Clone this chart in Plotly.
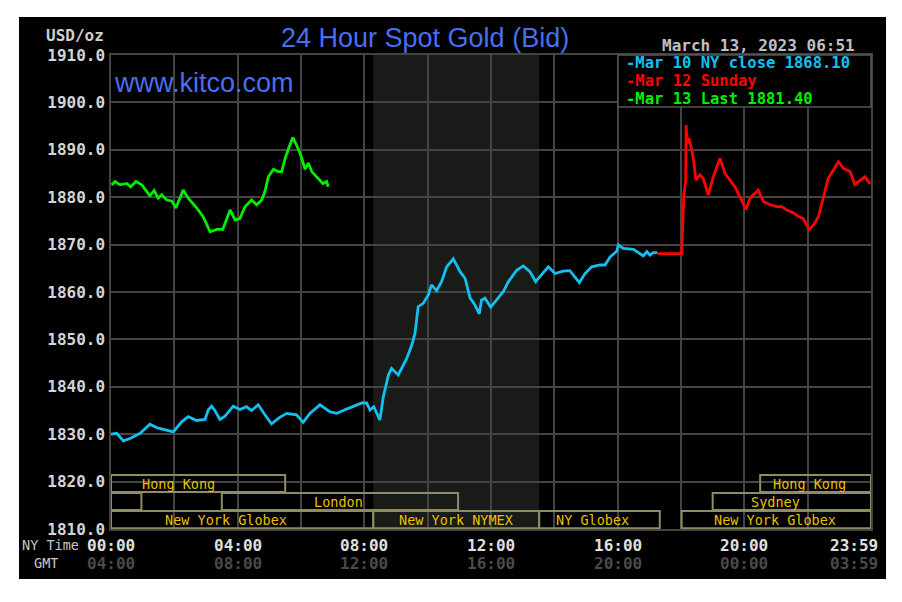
import plotly.graph_objects as go

# ---------------- data (NY time in hours, price USD/oz) ----------------
mar10_t = [0.0, 0.18, 0.39, 0.6, 0.92, 1.23, 1.44, 1.76, 1.97, 2.23, 2.44, 2.7, 2.97, 3.07, 3.18,
           3.28, 3.44, 3.6, 3.86, 4.07, 4.28, 4.44, 4.65, 4.86, 5.07, 5.34, 5.55, 5.86, 6.07, 6.28,
           6.6, 6.92, 7.13, 7.44, 7.65, 7.92, 8.07, 8.18, 8.3, 8.49, 8.6, 8.76, 8.86, 9.07, 9.34,
           9.5, 9.6, 9.7, 9.86, 10.02, 10.12, 10.28, 10.44, 10.6, 10.81, 11.02, 11.18, 11.34, 11.49, 11.63,
           11.7, 11.81, 11.99, 12.18, 12.39, 12.55, 12.81, 13.02, 13.23, 13.41, 13.6, 13.81, 14.02, 14.28, 14.49,
           14.65, 14.79, 14.97, 15.18, 15.44, 15.6, 15.76, 15.97, 16.02, 16.18, 16.5, 16.7, 16.81, 16.92, 17.02,
           17.12, 17.25]
mar10_v = [1830.0, 1830.2, 1828.6, 1829.1, 1830.2, 1832.1, 1831.4, 1830.9, 1830.5, 1832.6, 1833.7, 1832.9, 1833.1, 1835.1, 1835.9,
           1835.0, 1833.1, 1833.8, 1835.9, 1835.2, 1835.8, 1835.0, 1836.2, 1834.1, 1832.2, 1833.6, 1834.4, 1834.1, 1832.5, 1834.4,
           1836.2, 1834.7, 1834.4, 1835.3, 1835.8, 1836.6, 1836.6, 1835.1, 1835.8, 1833.0, 1837.9, 1842.5, 1843.9, 1842.5, 1846.0,
           1848.8, 1851.3, 1856.9, 1857.6, 1859.4, 1861.5, 1860.3, 1862.2, 1865.3, 1867.0, 1864.3, 1862.9, 1858.7, 1857.3, 1855.4,
           1858.3, 1858.7, 1856.8, 1858.3, 1860.1, 1862.2, 1864.6, 1865.5, 1864.3, 1862.2, 1863.6, 1865.3, 1863.9, 1864.4, 1864.5,
           1863.2, 1862.0, 1863.9, 1865.3, 1865.7, 1865.7, 1867.4, 1868.6, 1869.9, 1869.2, 1869.0, 1868.2, 1867.6, 1868.5, 1867.8,
           1868.3, 1868.3]

mar12_t = [17.25, 18.02, 18.05, 18.09, 18.15, 18.16, 18.2, 18.25, 18.34, 18.41, 18.47, 18.6, 18.7, 18.86, 19.02,
           19.23, 19.39, 19.55, 19.7, 19.86, 20.05, 20.18, 20.44, 20.6, 20.81, 21.02, 21.18, 21.34, 21.55, 21.71,
           21.86, 22.05, 22.18, 22.34, 22.49, 22.65, 22.81, 22.97, 23.13, 23.34, 23.49, 23.65, 23.81, 23.97]
mar12_v = [1868.1, 1868.1, 1873.4, 1880.5, 1883.6, 1895.2, 1891.4, 1892.4, 1890.0, 1887.2, 1883.6, 1884.7, 1884.0, 1880.5, 1884.3,
           1888.2, 1885.0, 1883.6, 1882.2, 1880.1, 1877.4, 1879.8, 1881.5, 1879.1, 1878.4, 1878.0, 1878.0, 1877.3, 1876.7, 1875.9,
           1875.5, 1873.2, 1874.1, 1875.9, 1879.8, 1884.0, 1885.7, 1887.5, 1886.1, 1885.4, 1882.7, 1883.6, 1884.3, 1882.8]

mar13_t = [0.02, 0.13, 0.28, 0.5, 0.62, 0.79, 0.97, 1.23, 1.36, 1.49, 1.6, 1.76, 1.92, 2.05, 2.28,
           2.44, 2.71, 2.91, 3.13, 3.34, 3.53, 3.76, 3.92, 4.07, 4.23, 4.44, 4.6, 4.76, 4.86, 4.97,
           5.13, 5.28, 5.39, 5.49, 5.63, 5.74, 5.86, 5.97, 6.13, 6.23, 6.34, 6.5, 6.69, 6.81, 6.86]
mar13_v = [1882.6, 1883.3, 1882.6, 1882.9, 1882.2, 1883.3, 1882.6, 1880.3, 1881.4, 1879.8, 1880.5, 1879.4, 1879.2, 1877.7, 1881.5,
           1879.8, 1877.7, 1875.9, 1872.7, 1873.2, 1873.2, 1877.3, 1875.2, 1875.5, 1878.0, 1879.4, 1878.4, 1879.4, 1881.2, 1884.3,
           1885.9, 1885.4, 1885.4, 1888.0, 1890.7, 1892.6, 1891.0, 1889.3, 1885.9, 1887.2, 1885.4, 1884.3, 1882.9, 1883.3, 1882.2]

legend_labels = ["-Mar 10 NY close 1868.10", "-Mar 12 Sunday", "-Mar 13 Last 1881.40"]
series_colors = ["#14c0f0", "#ff0000", "#00ee00"]

ny_tick_hours = [0, 4, 8, 12, 16, 20, 23.45]
ny_tick_labels = ["00:00", "04:00", "08:00", "12:00", "16:00", "20:00", "23:59"]
gmt_tick_labels = ["04:00", "08:00", "12:00", "16:00", "20:00", "00:00", "03:59"]

# market sessions: (start hour, end hour, row, label, label centre hour)
sessions = [
    (0.0, 5.5, 1, "Hong Kong", 2.12),
    (0.0, 0.96, 2, "", None),
    (3.5, 10.96, 2, "London", 7.17),
    (0.0, 8.28, 3, "New York Globex", 3.63),
    (8.28, 13.52, 3, "New York NYMEX", 10.9),
    (13.52, 17.33, 3, "NY Globex", 15.19),
    (18.02, 24.0, 3, "New York Globex", 20.97),
    (19.0, 24.0, 2, "Sydney", 20.97),
    (20.5, 24.0, 1, "Hong Kong", 22.07),
]
row_bounds = {1: (1817.8, 1821.4), 2: (1814.0, 1817.6), 3: (1810.15, 1813.8)}
nymex_shade = (8.28, 13.52)

# ---------------- figure ----------------
L, R, T, B = 111, 871, 55, 529
W, H = 902, 602


def pxx(x):
    return (x - L) / (R - L)


def pxy(y):
    return (B - y) / (B - T)


MONO = "DejaVu Sans Mono"
fig = go.Figure()
for t, v, c in [(mar10_t, mar10_v, series_colors[0]),
                (mar12_t, mar12_v, series_colors[1]),
                (mar13_t, mar13_v, series_colors[2])]:
    fig.add_trace(go.Scatter(x=t, y=v, mode="lines", line=dict(color=c, width=2.8),
                             hoverinfo="skip", showlegend=False))

shapes = []
# black panel
shapes.append(dict(type="rect", xref="paper", yref="paper", x0=pxx(19), x1=pxx(886),
                   y0=pxy(579), y1=pxy(17), fillcolor="#000000", line=dict(width=0), layer="below"))
# NYMEX shading
shapes.append(dict(type="rect", xref="x", yref="paper", x0=nymex_shade[0], x1=nymex_shade[1],
                   y0=0, y1=1, fillcolor="#181b18", line=dict(width=0), layer="below"))
# session boxes
for s0, s1, row, lab, lc in sessions:
    y0, y1 = row_bounds[row]
    shapes.append(dict(type="rect", xref="x", yref="y", x0=s0, x1=s1, y0=y0, y1=y1,
                       line=dict(color="#8f8b63", width=2), fillcolor="rgba(0,0,0,0)", layer="above"))
# legend box
shapes.append(dict(type="rect", xref="paper", yref="paper", x0=pxx(618), x1=pxx(871),
                   y0=pxy(107), y1=pxy(55), fillcolor="#000000",
                   line=dict(color="#555555", width=1.5), layer="above"))

ann = []
ann.append(dict(xref="paper", yref="paper", x=pxx(425), y=pxy(38), text="24 Hour Spot Gold (Bid)",
                showarrow=False, xanchor="center", yanchor="middle",
                font=dict(family="Liberation Sans", size=27, color="#4a6ef0")))
ann.append(dict(xref="paper", yref="paper", x=pxx(112), y=pxy(83), text="www.kitco.com",
                showarrow=False, xanchor="left", yanchor="middle",
                font=dict(family="Liberation Sans", size=27, color="#4a6ef0")))
ann.append(dict(xref="paper", yref="paper", x=pxx(106), y=pxy(36), text="USD/oz",
                showarrow=False, xanchor="right", yanchor="middle",
                font=dict(family=MONO, size=16, color="#d0d0d0", weight="bold")))
ann.append(dict(xref="paper", yref="paper", x=pxx(857), y=pxy(45), text="March 13, 2023 06:51",
                showarrow=False, xanchor="right", yanchor="middle",
                font=dict(family=MONO, size=16, color="#c0c0c0", weight="bold")))
legend_y = [63.5, 81, 98.5]
for lab, col, yy in zip(legend_labels, series_colors, legend_y):
    ann.append(dict(xref="paper", yref="paper", x=pxx(624), y=pxy(yy), text=lab,
                    showarrow=False, xanchor="left", yanchor="middle",
                    font=dict(family=MONO, size=15.5, color=col, weight="bold")))
# x labels
for h, a, g in zip(ny_tick_hours, ny_tick_labels, gmt_tick_labels):
    ann.append(dict(xref="x", yref="paper", x=h, y=pxy(545), text=a, showarrow=False,
                    xanchor="center", yanchor="middle",
                    font=dict(family=MONO, size=16, color="#e0e0e0", weight="bold")))
    ann.append(dict(xref="x", yref="paper", x=h, y=pxy(563), text=g, showarrow=False,
                    xanchor="center", yanchor="middle",
                    font=dict(family=MONO, size=16, color="#4a4a4a", weight="bold")))
ann.append(dict(xref="paper", yref="paper", x=pxx(81), y=pxy(545), text="NY Time", showarrow=False,
                xanchor="right", yanchor="middle", font=dict(family=MONO, size=13.5, color="#c8c8c8")))
ann.append(dict(xref="paper", yref="paper", x=pxx(46), y=pxy(563), text="GMT", showarrow=False,
                xanchor="center", yanchor="middle", font=dict(family=MONO, size=13.5, color="#c8c8c8")))
# session labels
for s0, s1, row, lab, lc in sessions:
    if lab:
        y0, y1 = row_bounds[row]
        ann.append(dict(xref="x", yref="y", x=lc, y=(y0 + y1) / 2, text=lab, showarrow=False,
                        xanchor="center", yanchor="middle",
                        font=dict(family=MONO, size=13.5, color="#e8c000")))

grid = "#444444"
fig.update_layout(
    width=W, height=H, autosize=False,
    margin=dict(l=L, r=W - R, t=T, b=H - B, pad=0),
    paper_bgcolor="#ffffff", plot_bgcolor="#000000",
    showlegend=False,
    shapes=shapes, annotations=ann,
    xaxis=dict(range=[0, 24], tick0=0, dtick=2, showgrid=True, gridcolor=grid, gridwidth=1.5,
               showticklabels=False, ticks="", zeroline=False,
               showline=True, mirror=True, linecolor=grid, linewidth=1.5, fixedrange=True),
    yaxis=dict(range=[1810, 1910], tick0=1810, dtick=10, showgrid=True, gridcolor=grid, gridwidth=1.5,
               tickformat=".1f", ticks="", ticklabelstandoff=1, zeroline=False,
               tickfont=dict(family=MONO, size=16, color="#d4d4d4", weight="bold"),
               showline=True, mirror=True, linecolor=grid, linewidth=1.5, fixedrange=True),
)

fig.write_html("out.html")
